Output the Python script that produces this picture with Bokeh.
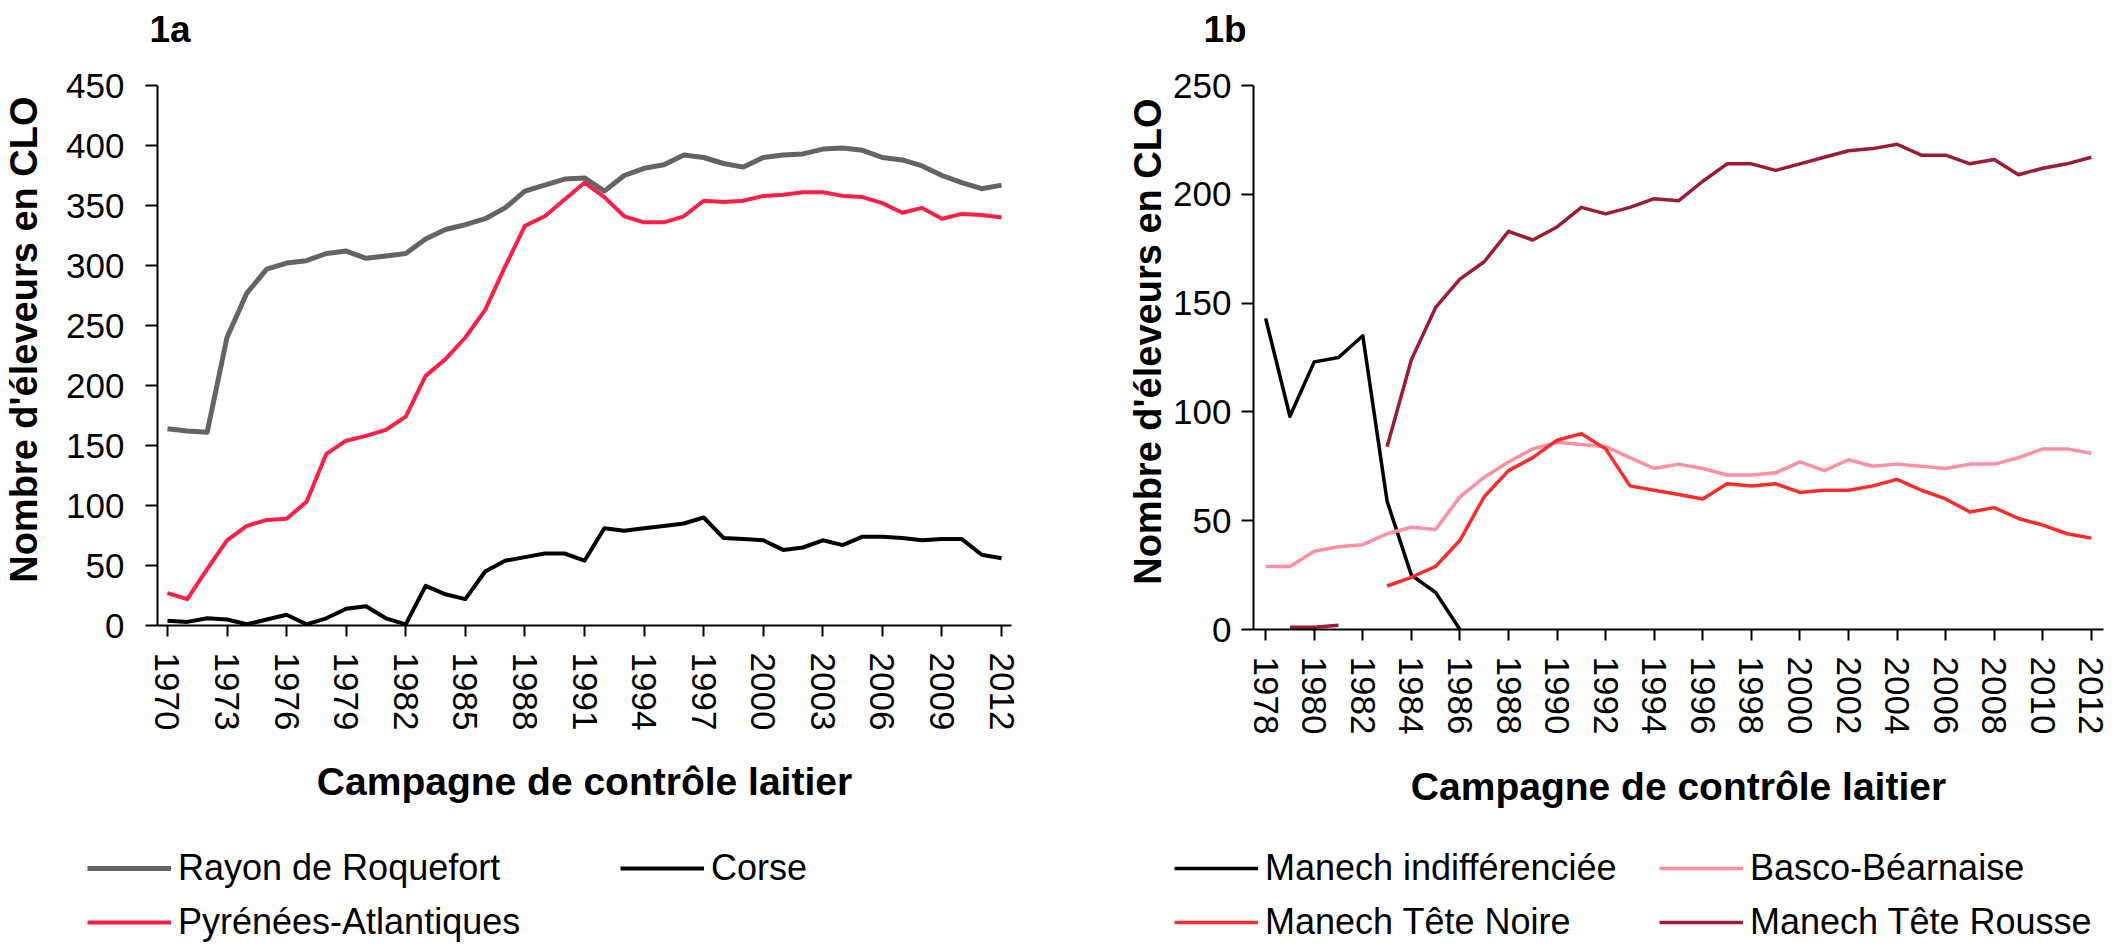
from bokeh.plotting import figure
from bokeh.models import FixedTicker, Range1d, Legend, LegendItem, Label
from bokeh.layouts import row, column
from bokeh.embed import file_html
from bokeh.resources import INLINE

NaN = float("nan")

# ---------------- data: panel 1a ----------------
years_a = list(range(1970, 2013))
rayon_roquefort = [164, 162, 161, 240, 277, 297, 302, 304, 310, 312,
                   306, 308, 310, 322, 330, 334, 339, 348, 362, 367,
                   372, 373, 362, 375, 381, 384, 392, 390, 385, 382,
                   390, 392, 393, 397, 398, 396, 390, 388, 383, 375,
                   369, 364, 367]
pyrenees_atlantiques = [27, 22, 47, 71, 83, 88, 89, 103, 143, 154,
                        158, 163, 174, 208, 222, 240, 263, 299, 333, 341,
                        355, 369, 357, 341, 336, 336, 341, 354, 353, 354,
                        358, 359, 361, 361, 358, 357, 352, 344, 348, 339,
                        343, 342, 340]
corse = [4, 3, 6, 5, 1, 5, 9, 1, 6, 14,
         16, 6, 1, 33, 26, 22, 45, 54, 57, 60,
         60, 54, 81, 79, 81, 83, 85, 90, 73, 72,
         71, 63, 65, 71, 67, 74, 74, 73, 71, 72,
         72, 59, 56]
ticks_a = list(range(1970, 2013, 3))
yticks_a = list(range(0, 451, 50))

# ---------------- data: panel 1b ----------------
years_indiff = list(range(1978, 1987))
manech_indifferenciee = [143, 98, 123, 125, 135, 59, 25, 17, 0]
years_basco = list(range(1978, 2013))
basco_bearnaise = [29, 29, 36, 38, 39, 44, 47, 46, 61, 70,
                   77, 83, 86, 85, 84, 79, 74, 76, 74, 71,
                   71, 72, 77, 73, 78, 75, 76, 75, 74, 76,
                   76, 79, 83, 83, 81]
years_noire = list(range(1983, 2013))
manech_tete_noire = [20, 24, 29, 41, 61, 73, 79, 87, 90, 83,
                     66, 64, 62, 60, 67, 66, 67, 63, 64, 64,
                     66, 69, 64, 60, 54, 56, 51, 48, 44, 42]
years_rousse = list(range(1979, 2013))
manech_tete_rousse = [1, 1, 2, NaN, 84, 124, 148, 161, 169, 183,
                      179, 185, 194, 191, 194, 198, 197, 206, 214, 214,
                      211, 214, 217, 220, 221, 223, 218, 218, 214, 216,
                      209, 212, 214, 217]
ticks_b = list(range(1978, 2013, 2))
yticks_b = list(range(0, 251, 50))

FONT = "Liberation Sans"
Y_TITLE = "\u00a0\u00a0\u00a0Nombre d'éleveurs en CLO"
X_TITLE = "Campagne de contrôle laitier"

SERIES = {
    "Rayon de Roquefort": (years_a, rayon_roquefort, dict(line_color="#646464", line_width=5)),
    "Pyrénées-Atlantiques": (years_a, pyrenees_atlantiques, dict(line_color="#FF1F44", line_width=4)),
    "Corse": (years_a, corse, dict(line_color="black", line_width=4)),
    "Manech indifférenciée": (years_indiff, manech_indifferenciee, dict(line_color="black", line_width=3.5)),
    "Basco-Béarnaise": (years_basco, basco_bearnaise, dict(line_color="#FF8FA2", line_width=3.5)),
    "Manech Tête Noire": (years_noire, manech_tete_noire, dict(line_color="#FF2A2A", line_width=3.5)),
    "Manech Tête Rousse": (years_rousse, manech_tete_rousse, dict(line_color="#9C1C36", line_width=3.5)),
}


def blank_fig(height):
    f = figure(width=1055, height=height, min_border=0,
               x_range=Range1d(0, 1), y_range=Range1d(0, 1),
               x_axis_type=None, y_axis_type=None,
               output_backend="svg", toolbar_location=None)
    f.outline_line_color = None
    f.xgrid.visible = False
    f.ygrid.visible = False
    return f


def make_title_fig(text, sx):
    f = blank_fig(67)
    f.add_layout(Label(x=sx, y=38, x_units="screen", y_units="screen", text=text,
                       text_font=FONT, text_font_size="37px", text_font_style="bold",
                       text_color="black", text_align="left", text_baseline="alphabetic"))
    return f


def make_fig(xr, yr, frame_w, frame_h, top, left, right,
             xticks, yticks, ystandoff, ytitle_standoff, xtitle_standoff):
    p = figure(frame_width=frame_w, frame_height=frame_h,
               min_border_left=left, min_border_right=right,
               min_border_top=top, min_border_bottom=200,
               x_range=Range1d(*xr), y_range=Range1d(*yr),
               output_backend="svg", toolbar_location=None)
    p.outline_line_color = None
    p.xgrid.visible = False
    p.ygrid.visible = False
    p.background_fill_color = "white"
    for ax in (p.xaxis[0], p.yaxis[0]):
        ax.axis_line_color = "black"
        ax.axis_line_width = 2
        ax.major_tick_line_color = "black"
        ax.major_tick_line_width = 2
        ax.major_tick_in = 0
        ax.minor_tick_line_color = None
        ax.major_label_text_font = FONT
        ax.major_label_text_font_size = "35px"
        ax.major_label_text_color = "black"
        ax.axis_label_text_font = FONT
        ax.axis_label_text_font_style = "bold"
        ax.axis_label_text_color = "black"
    p.xaxis[0].ticker = FixedTicker(ticks=xticks)
    p.xaxis[0].major_tick_out = 11
    p.xaxis[0].major_label_orientation = "vertical"
    p.xaxis[0].major_label_standoff = 16
    p.xaxis[0].axis_label = X_TITLE
    p.xaxis[0].axis_label_text_font_size = "39px"
    p.xaxis[0].axis_label_standoff = xtitle_standoff
    p.yaxis[0].ticker = FixedTicker(ticks=yticks)
    p.yaxis[0].major_tick_out = 12
    p.yaxis[0].major_label_standoff = ystandoff
    p.yaxis[0].axis_label = Y_TITLE
    p.yaxis[0].axis_label_text_font_size = "38px"
    p.yaxis[0].axis_label_standoff = ytitle_standoff
    return p


def make_legend_fig(names, vx, label_width):
    # legend-only canvas: the series lie outside its (0, 1) view,
    # only their legend glyphs are visible
    f = blank_fig(118)
    items = []
    for name in names:
        xs, ys, style = SERIES[name]
        r = f.line(xs, ys, line_join="round", **style)
        items.append(LegendItem(label=name, renderers=[r]))
    lg = Legend(items=items, location=(vx, 0), orientation="horizontal", ncols=2)
    lg.label_text_font = FONT
    lg.label_text_font_size = "36px"
    lg.label_text_color = "black"
    lg.glyph_width = 84
    lg.glyph_height = 36
    lg.label_width = label_width
    lg.label_standoff = 7
    lg.spacing = 12
    lg.padding = 0
    lg.margin = 0
    lg.border_line_color = None
    lg.background_fill_alpha = 0
    f.add_layout(lg)
    return f


def add_series(p, names):
    for name in names:
        xs, ys, style = SERIES[name]
        p.line(xs, ys, line_join="round", **style)


# ---------------- panel 1a ----------------
t1 = make_title_fig("1a", 149)
p1 = make_fig((1969.5, 2012.5), (0, 450), 854, 540, 18, 152, 49,
              ticks_a, yticks_a, 21, 18, 27)
add_series(p1, ["Rayon de Roquefort", "Pyrénées-Atlantiques", "Corse"])
l1 = make_legend_fig(["Rayon de Roquefort", "Corse", "Pyrénées-Atlantiques"], 87, 430)

# ---------------- panel 1b ----------------
t2 = make_title_fig("1b", 148)
p2 = make_fig((1977.5, 2012.5), (0, 250), 850, 544, 11, 193, 12,
              ticks_b, yticks_b, 10, 1, 28)
p2.min_border_bottom = 203
add_series(p2, ["Manech indifférenciée", "Basco-Béarnaise",
                "Manech Tête Noire", "Manech Tête Rousse"])
l2 = make_legend_fig(["Manech indifférenciée", "Basco-Béarnaise",
                      "Manech Tête Noire", "Manech Tête Rousse"], 119, 382)

layout = column(row(t1, t2), row(p1, p2), row(l1, l2))
open("out.html", "w").write(file_html(layout, INLINE))
